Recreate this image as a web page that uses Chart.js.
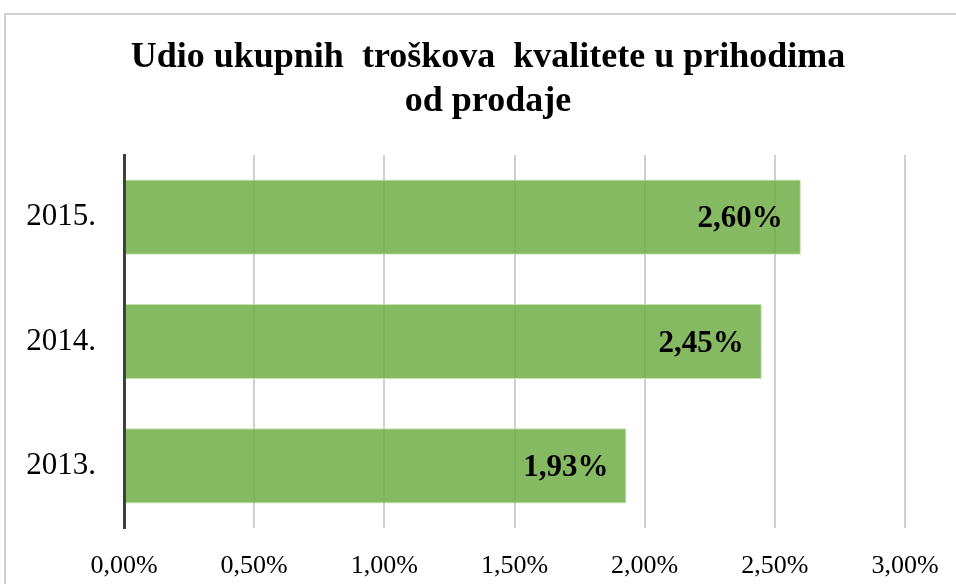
<!DOCTYPE html>
<html>
<head>
<meta charset="utf-8">
<script src="https://cdn.jsdelivr.net/npm/chart.js@4/dist/chart.umd.min.js"></script>
<style>
    html, body { margin: 0; padding: 0; background: #fff; overflow: hidden; }
    #frame {
        position: absolute; left: 4px; top: 13px;
        width: 1000px; height: 620px;
        border: 2px solid #d0d0d0; box-sizing: border-box;
    }
    #wrap { position: absolute; left: 0; top: 0; width: 956px; height: 584px; }
</style>
</head>
<body>
<div id="frame"></div>
<div id="wrap"><canvas id="barChart" width="956" height="584"></canvas></div>
<script>
// --- Datos ---
const years = ["2015.", "2014.", "2013."];
const shares = [2.60, 2.45, 1.93];
const tickValues = [0, 0.5, 1, 1.5, 2, 2.5, 3];
const titleLines = ["Udio ukupnih  troškova  kvalitete u prihodima", "od prodaje"];

const SERIF = "'Liberation Serif', 'Times New Roman', serif";

function pct(v) {
    return v.toFixed(2).replace(".", ",") + "%";
}

// titulo (centrado un poco a la derecha, como en el original)
const titleDraw = {
    id: "titleDraw",
    afterDraw(chart) {
        const ctx = chart.ctx;
        ctx.save();
        ctx.font = "bold 36px " + SERIF;
        ctx.fillStyle = "#000";
        ctx.textAlign = "center";
        ctx.textBaseline = "middle";
        titleLines.forEach((line, i) => {
            ctx.fillText(line, 488, 58 + i * 44);
        });
        ctx.restore();
    }
};

// etiquetas dentro de las barras
const barLabels = {
    id: "barLabels",
    afterDatasetsDraw(chart) {
        const ctx = chart.ctx;
        const meta = chart.getDatasetMeta(0);
        ctx.save();
        ctx.font = "bold 31px " + SERIF;
        ctx.fillStyle = "#000";
        ctx.textAlign = "right";
        ctx.textBaseline = "middle";
        meta.data.forEach((bar, i) => {
            ctx.fillText(pct(shares[i]), bar.x - 18, bar.y + 2);
        });
        ctx.restore();
    }
};

const ctxBar = document.getElementById("barChart").getContext("2d");

new Chart(ctxBar, {
    type: "bar",
    data: {
        labels: years,
        datasets: [{
            data: shares,
            backgroundColor: "rgba(112, 173, 71, 0.85)",
            borderColor: "rgba(190, 225, 170, 0.9)",
            borderWidth: 1,
            categoryPercentage: 1,
            barPercentage: 0.605
        }]
    },
    options: {
        indexAxis: "y",
        responsive: false,
        animation: false,
        layout: { padding: { left: 0, right: 51, top: 155, bottom: 0 } },
        scales: {
            x: {
                min: 0,
                max: 3,
                afterBuildTicks: (axis) => {
                    axis.ticks = tickValues.map(v => ({ value: v }));
                },
                afterFit: (axis) => {
                    axis.height = 56;
                    axis.paddingLeft = 0;
                    axis.paddingRight = 0;
                },
                grid: { color: "#d0d0d0", lineWidth: 2, drawTicks: false },
                border: { display: false },
                ticks: {
                    padding: 23,
                    color: "#000",
                    font: { family: SERIF, size: 26 },
                    callback: (v) => pct(v)
                }
            },
            y: {
                afterFit: (axis) => { axis.width = 124; },
                grid: { display: false, drawTicks: false },
                border: { display: true, color: "#404040", width: 3, z: 2 },
                ticks: {
                    padding: 28,
                    color: "#000",
                    font: { family: SERIF, size: 31 }
                }
            }
        },
        plugins: {
            legend: { display: false },
            tooltip: { enabled: false },
            title: { display: false }
        }
    },
    plugins: [barLabels, titleDraw]
});
</script>
</body>
</html>
